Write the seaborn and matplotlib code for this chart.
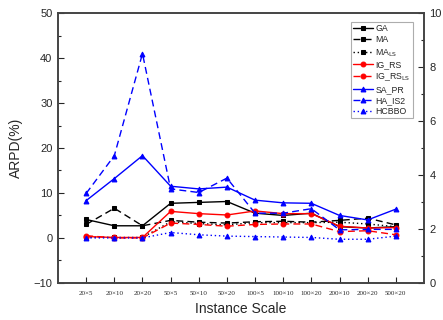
import matplotlib
matplotlib.use("Agg")
import matplotlib.pyplot as plt
import seaborn as sns
import numpy as np
import pandas as pd
from matplotlib.ticker import MultipleLocator

categories = ["20×5", "20×10", "20×20", "50×5", "50×10", "50×20",
              "100×5", "100×10", "100×20", "200×10", "200×20", "500×20"]

GA      = [4.1, 2.7, 2.7, 7.7, 7.9, 8.1, 5.5, 5.0, 5.5, 2.5, 2.2, 2.5]
MA      = [3.0, 6.6, 2.7, 3.9, 3.5, 3.3, 3.6, 3.7, 3.5, 3.9, 4.4, 2.9]
MA_LS   = [0.2, 0.1, 0.1, 3.6, 3.2, 2.9, 3.4, 3.4, 3.4, 3.5, 3.1, 2.5]
IG_RS   = [0.3, 0.1, 0.1, 5.9, 5.4, 5.1, 6.0, 5.4, 5.4, 2.6, 2.2, 2.3]
IG_RS_LS = [0.5, 0.0, 0.0, 3.3, 3.0, 2.6, 3.0, 3.1, 3.1, 1.4, 1.6, 0.7]
SA_PR   = [8.3, 13.2, 18.3, 11.5, 10.9, 11.3, 8.4, 7.8, 7.7, 5.0, 4.0, 6.4]
HA_IS2  = [9.9, 18.3, 41.0, 10.9, 10.1, 13.3, 5.5, 5.5, 6.5, 1.8, 1.9, 1.9]
HCBBO   = [0.0, 0.0, 0.0, 1.2, 0.7, 0.4, 0.3, 0.2, 0.1, -0.3, -0.3, 0.4]

series = [
    ("GA", GA, "black", "-", "s"),
    ("MA", MA, "black", (0, (5, 3)), "s"),
    (r"MA$_{\rm LS}$", MA_LS, "black", (0, (1, 2)), "s"),
    ("IG_RS", IG_RS, "red", "-", "o"),
    (r"IG_RS$_{\rm LS}$", IG_RS_LS, "red", (0, (5, 3)), "o"),
    ("SA_PR", SA_PR, "blue", "-", "^"),
    ("HA_IS2", HA_IS2, "blue", (0, (5, 3)), "^"),
    ("HCBBO", HCBBO, "blue", (0, (1, 2)), "^"),
]

sns.set_style("white")
plt.rcParams['font.family'] = ['Liberation Sans', 'DejaVu Sans']

fig = plt.figure(figsize=(4.43, 3.2), dpi=100)
ax = fig.add_axes([0.131, 0.116, 0.826, 0.843])

pos = np.arange(1, len(categories) + 1)
for name, vals, color, ls, mk in series:
    df = pd.DataFrame({"x": pos, "y": vals})
    sns.lineplot(data=df, x="x", y="y", ax=ax, color=color, linestyle=ls,
                 marker=mk, markersize=3.5, markeredgecolor=color,
                 linewidth=1.0, label=name)

ax.set_xlim(0, 13)
ax.set_ylim(-10, 50)
ax.set_xticks(pos)
ax.set_xticklabels(categories, fontsize=5, family=['Liberation Serif', 'DejaVu Serif'])
ax.yaxis.set_major_locator(MultipleLocator(10))
ax.yaxis.set_minor_locator(MultipleLocator(5))
ax.tick_params(axis='y', which='major', direction='in', length=4, width=0.8,
               labelsize=8, left=True, right=False, pad=4)
ax.tick_params(axis='y', which='minor', direction='in', length=2.5, width=0.8, left=True, right=False)
ax.tick_params(axis='x', which='major', direction='in', length=4, width=0.8,
               bottom=True, top=False, pad=6)
ax.set_xlabel("Instance Scale", fontsize=10, labelpad=4)
ax.set_ylabel("ARPD(%)", fontsize=10, labelpad=8)

for sp in ax.spines.values():
    sp.set_color("#444444")
    sp.set_linewidth(1.2)

ax2 = ax.twinx()
ax2.set_ylim(0, 10)
ax2.yaxis.set_major_locator(MultipleLocator(2))
ax2.yaxis.set_minor_locator(MultipleLocator(1))
ax2.tick_params(axis='y', which='major', direction='in', length=4, width=0.8, labelsize=8, pad=4)
ax2.tick_params(axis='y', which='minor', direction='in', length=2.5, width=0.8)
for sp in ax2.spines.values():
    sp.set_color("#444444")
    sp.set_linewidth(1.2)

leg = ax.legend(loc="upper right", bbox_to_anchor=(0.975, 0.975), fontsize=6.3,
                frameon=True, fancybox=False, handlelength=2.2, handletextpad=0.3,
                labelspacing=0.22, borderpad=0.3, borderaxespad=0.2)
leg.get_frame().set_edgecolor("#999999")
leg.get_frame().set_linewidth(0.8)

fig.savefig("out.png", dpi=100)
